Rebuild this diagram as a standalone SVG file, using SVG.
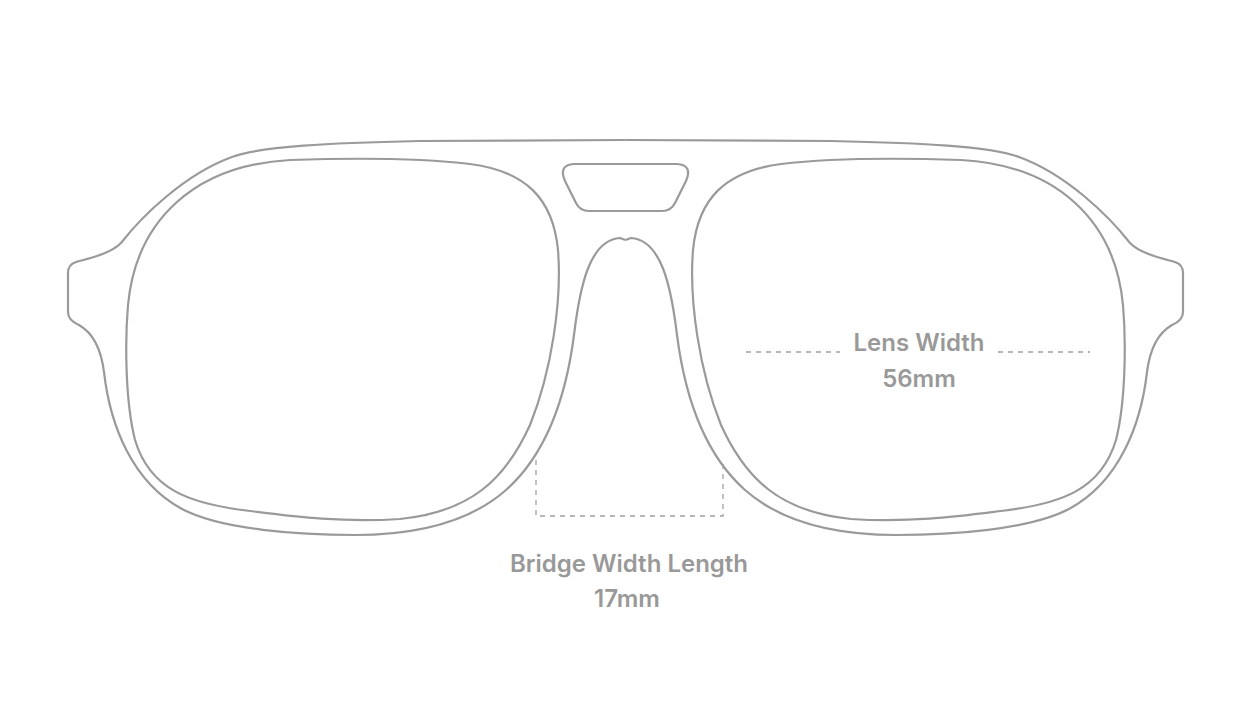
<svg xmlns="http://www.w3.org/2000/svg" width="1251" height="705" viewBox="0 0 1251 705">
<style>
.l{fill:none;stroke:#9a9a9a;stroke-width:2.2;stroke-linejoin:round}
.d{fill:none;stroke:#a0a0a0;stroke-width:1.3;stroke-dasharray:5 5}
.t{font-family:Inter,"Liberation Sans",sans-serif;font-size:24px;font-weight:600;fill:#999;text-anchor:middle}
</style>
<rect width="1251" height="705" fill="#fff"/>
<defs>
<g id="half">
<path class="l" d="M625.5,140 L420,141 C330,143 262,146 232,157 C185,174 142,216 121,243 C110,254 90,258 76,262 C70,264 68,268 68,273 L68,312 C68,318 72,322 79,325 C93,333 101,348 104,372 C110,425 132,482 182,509 C222,530 300,535 355,535 C420,535 472,520 506,490 C542,458 565,405 574,335 C580,285 590,240 620,238 L625.5,240"/>
<path class="l" d="M290,160 C350,158 420,158 470,164 C525,171 553,198 558,250 C562,300 552,370 530,425 C505,480 470,512 400,519 C340,523 290,516 250,511 C190,504 150,490 135,440 C125,400 125,340 128,305 C136,220 195,165 290,160 Z"/>
</g>
</defs>
<g id="frame">
<use href="#half"/>
<use href="#half" transform="translate(1251,0) scale(-1,1)"/>
<path class="l" d="M574,164 L677,164 Q693,165 686,181 L675,203 Q671,211 662,211 L589,211 Q580,211 576,203 L565,181 Q558,165 574,164 Z"/>
</g>
<g id="connectors">
<path class="d" d="M746,352 H840 M998,352 H1090"/>
<path class="d" d="M536,460 V516 H723 V464"/>
</g>
<g id="lens-label">
<text class="t" x="919" y="351">Lens Width</text>
<text class="t" x="919" y="387">56mm</text>
</g>
<g id="bridge-label">
<text class="t" x="629" y="572">Bridge Width Length</text>
<text class="t" x="627" y="607">17mm</text>
</g>
</svg>
